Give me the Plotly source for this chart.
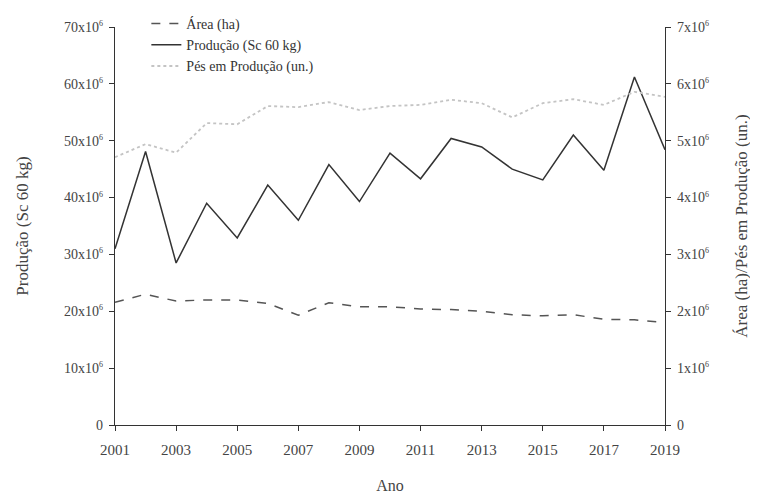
import plotly.graph_objects as go

years = list(range(2001, 2020))
producao = [31.0, 48.1, 28.5, 39.0, 32.9, 42.2, 36.0, 45.8, 39.3, 47.8, 43.3, 50.4, 48.9, 45.0, 43.1, 51.0, 44.8, 61.2, 48.4]  # x10^6 sacas
area = [2.16, 2.30, 2.18, 2.20, 2.20, 2.14, 1.93, 2.15, 2.08, 2.08, 2.04, 2.03, 2.00, 1.94, 1.92, 1.94, 1.86, 1.85, 1.80]  # x10^6 ha
pes = [4.71, 4.94, 4.79, 5.31, 5.29, 5.61, 5.59, 5.68, 5.54, 5.61, 5.63, 5.72, 5.66, 5.41, 5.66, 5.73, 5.63, 5.86, 5.77]  # x10^6 un.

sup = "<sup><span style='font-size:8px'>6</span></sup>"
left_ticks = [0, 10, 20, 30, 40, 50, 60, 70]
left_labels = ["0"] + [f"{v}x10{sup}" for v in left_ticks[1:]]
right_ticks = [0, 1, 2, 3, 4, 5, 6, 7]
right_labels = ["0"] + [f"{v}x10{sup}" for v in right_ticks[1:]]
x_ticks = list(range(2001, 2020, 2))

font = "Liberation Serif"
axcol = "#333333"

fig = go.Figure()
fig.add_trace(go.Scatter(x=years, y=area, name="Área (ha)", yaxis="y2", mode="lines",
                         line=dict(color="#555555", width=1.5, dash="dash")))
fig.add_trace(go.Scatter(x=years, y=producao, name="Produção (Sc 60 kg)", mode="lines",
                         line=dict(color="#333333", width=1.5)))
fig.add_trace(go.Scatter(x=years, y=pes, name="Pés em Produção (un.)", yaxis="y2", mode="lines",
                         line=dict(color="#c4c4c4", width=1.8, dash="dot")))

fig.update_layout(
    width=758, height=497,
    margin=dict(l=107, r=101, t=19, b=80, autoexpand=False),
    paper_bgcolor="white", plot_bgcolor="white",
    font=dict(family=font, size=14, color="#444444"),
    showlegend=True,
    legend=dict(x=0.057, y=1.0, yref="container", xanchor="left", yanchor="top",
                bgcolor="rgba(0,0,0,0)",
                font=dict(family=font, size=14, color="#333333"), tracegroupgap=0),
    xaxis=dict(range=[2001, 2019], tickvals=x_ticks, ticktext=[str(v) for v in x_ticks],
               showgrid=False, zeroline=False, showline=True, linecolor=axcol, linewidth=1.2,
               ticks="outside", ticklen=5, tickcolor=axcol, tickfont=dict(size=15),
               ticklabelstandoff=6,
               title=dict(text="Ano", font=dict(family=font, size=16), standoff=22)),
    yaxis=dict(range=[0, 70], tickvals=left_ticks, ticktext=left_labels,
               showgrid=False, zeroline=False, showline=True, linecolor=axcol, linewidth=1.2,
               ticks="outside", ticklen=5, tickcolor=axcol, ticklabelstandoff=3,
               title=dict(text="Produção (Sc 60 kg)", font=dict(family=font, size=17), standoff=31)),
    yaxis2=dict(range=[0, 7], tickvals=right_ticks, ticktext=right_labels, overlaying="y", side="right",
                showgrid=False, zeroline=False, showline=True, linecolor=axcol, linewidth=1.2,
                ticks="outside", ticklen=5, tickcolor=axcol, ticklabelstandoff=3,
                title=dict(text="Área (ha)/Pés em Produção (un.)", font=dict(family=font, size=17), standoff=27)),
)

fig.write_html("out.html")
